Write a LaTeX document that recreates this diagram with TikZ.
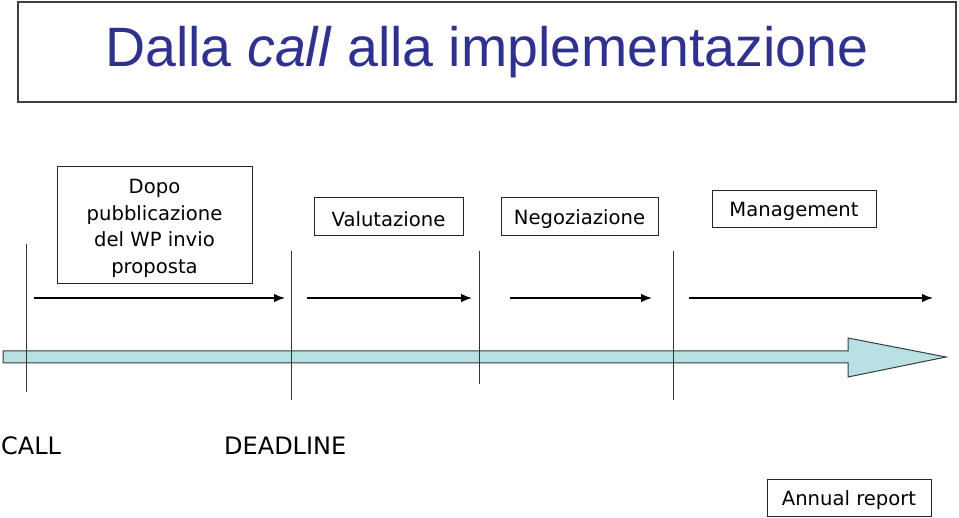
\documentclass[tikz,border=0pt]{standalone}
\usepackage{fontspec}
\setmainfont{DejaVu Sans}
\newfontfamily\titlefont{Liberation Sans}
\usetikzlibrary{arrows.meta}
\definecolor{titleblue}{RGB}{46,49,142}
\definecolor{barblue}{RGB}{185,224,227}
\definecolor{barline}{RGB}{50,60,60}
\tikzset{
  phase/.style={draw=black!85,line width=0.9pt,inner sep=0pt,font=\fontsize{19.6}{26.5}\selectfont,align=center,
    execute at begin node={\rule{0pt}{21pt}}},
  milestone/.style={draw=black!80,line width=0.8pt},
  span/.style={line width=1.4pt,-{Latex[length=11pt,width=8.5pt]}},
  tag/.style={inner sep=0pt,font=\fontsize{24}{26}\selectfont}
}
\begin{document}
\begin{tikzpicture}[x=1pt,y=-1pt]
\useasboundingbox (0,0) rectangle (959,518);
% title
\draw  (487,52) node[draw=black!75,line width=1.2pt,minimum width=938pt,minimum height=100pt,inner sep=0pt,text=titleblue,font=\titlefont\fontsize{55.5}{60}\selectfont] (title) {Dalla \textit{call} alla implementazione};
% phases
\draw  (154.5,224.5) node[phase,minimum width=195pt,minimum height=117pt,execute at begin node={}] (dopo) {\rule{0pt}{22pt}Dopo\\pubblicazione\\del WP invio\\proposta};
\draw  (388.5,216) node[phase,minimum width=149pt,minimum height=38pt] (valut) {Valutazione};
\draw  (579.5,216) node[phase,minimum width=157pt,minimum height=38pt] (negoz) {Negoziazione};
\draw  (794,208.5) node[phase,minimum width=164pt,minimum height=37pt] (manag) {Management};
\draw  (849,497.5) node[phase,minimum width=164pt,minimum height=37pt] (annual) {Annual report};
% milestones
\draw  (1,455) node[tag,anchor=base west] (call) {CALL};
\draw  (224,455) node[tag,anchor=base west] (deadline) {DEADLINE};
\coordinate (m1a) at (26,244);  \coordinate (m1b) at (26,392);
\coordinate (m2a) at (291,251); \coordinate (m2b) at (291,400);
\coordinate (m3a) at (479,251); \coordinate (m3b) at (479,384);
\coordinate (m4a) at (673,251); \coordinate (m4b) at (673,400);
% time axis
\draw [barline,fill=barblue,line width=1pt] (3,351) -- (848,351) -- (848,338) -- (946,357) -- (848,377) -- (848,363) -- (3,363) -- cycle;
\draw [milestone] (m1a) -- (m1b);
\draw [milestone] (m2a) -- (m2b);
\draw [milestone] (m3a) -- (m3b);
\draw [milestone] (m4a) -- (m4b);
% durations
\coordinate (s1) at (34,298);  \coordinate (e1) at (285,298);
\coordinate (s2) at (307,298); \coordinate (e2) at (472,298);
\coordinate (s3) at (510,298); \coordinate (e3) at (652,298);
\coordinate (s4) at (689,298); \coordinate (e4) at (933,298);
\draw [span] (s1) -- (e1);
\draw [span] (s2) -- (e2);
\draw [span] (s3) -- (e3);
\draw [span] (s4) -- (e4);
\end{tikzpicture}
\end{document}
